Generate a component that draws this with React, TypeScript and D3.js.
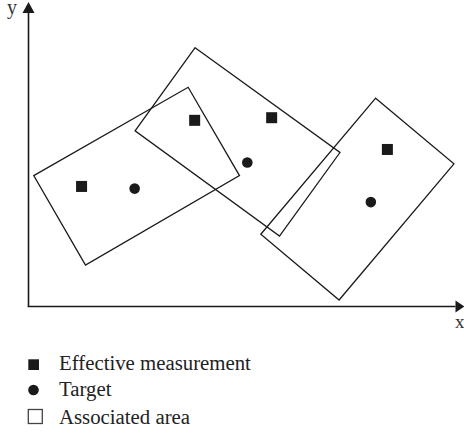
import * as d3 from "d3";

// data units: one unit = same pixel length on both axes
const areaA = [[0.12, 3.01], [3.67, 5.04], [4.85, 3.01], [1.31, 0.95]];
const areaB = [[3.83, 5.95], [7.16, 3.54], [5.77, 1.62], [2.45, 4.04]];
const areaC = [[7.98, 4.79], [9.78, 3.28], [7.14, 0.15], [5.34, 1.66]];
const areas = [areaA, areaB, areaC];

const measurements = [[1.22, 2.76], [3.82, 4.28], [5.59, 4.34], [8.25, 3.61]];
const targets = [[2.44, 2.71], [5.03, 3.31], [7.87, 2.4]];

const legendLabels = ["Effective measurement", "Target", "Associated area"];

const W = 464;
const H = 434;
const ink = "#1a1a1a";
const font = "'Liberation Serif', 'Times New Roman', serif";

export default function App() {
  const x = d3.scaleLinear().domain([0, 10]).range([28.5, 463.5]);
  const y = d3.scaleLinear().domain([0, 7]).range([306.5, 2]);

  const line = d3
    .line<number[]>()
    .x(d => x(d[0]))
    .y(d => y(d[1]))
    .curve(d3.curveLinearClosed);

  const sq = 11;
  const x0 = x(0);
  const y0 = y(0);
  const yTop = y(7);
  const xEnd = x(10);

  return (
    <svg width={W} height={H} style={{ position: "absolute", left: 0, top: 0, background: "#fff" }}>
      {/* axes */}
      <line x1={x0} y1={y0} x2={x0} y2={yTop + 10} stroke={ink} strokeWidth={1.6} />
      <line x1={x0 - 0.8} y1={y0} x2={xEnd - 8} y2={y0} stroke={ink} strokeWidth={1.6} />
      <path d={`M${x0},${yTop} L${x0 - 6},${yTop + 11} L${x0 + 6},${yTop + 11} Z`} fill={ink} />
      <path d={`M${xEnd + 1},${y0} L${xEnd - 8},${y0 - 6} L${xEnd - 8},${y0 + 6} Z`} fill={ink} />
      <text x={7} y={14} fontFamily={font} fontSize={20} fill="#333">y</text>
      <text x={455} y={328} fontFamily={font} fontSize={19} fill="#333">x</text>

      {areas.map((a, i) => (
        <path key={i} d={line(a) ?? ""} fill="none" stroke={ink} strokeWidth={1.3} />
      ))}

      {measurements.map((d, i) => (
        <rect key={i} x={x(d[0]) - sq / 2} y={y(d[1]) - sq / 2} width={sq} height={sq} fill={ink} />
      ))}
      {targets.map((d, i) => (
        <circle key={i} cx={x(d[0])} cy={y(d[1])} r={5.3} fill={ink} />
      ))}

      {/* legend */}
      <g fontFamily={font} fontSize={20.8} fill="#222">
        <rect x={28.3} y={359.3} width={10.7} height={10.7} fill={ink} />
        <circle cx={33.5} cy={390} r={5.3} fill={ink} />
        <rect x={28.3} y={409.5} width={14} height={14} fill="none" stroke="#444" strokeWidth={1.3} />
        {legendLabels.map((t, i) => (
          <text key={t} x={59} y={[370, 396, 424][i]}>{t}</text>
        ))}
      </g>
    </svg>
  );
}
